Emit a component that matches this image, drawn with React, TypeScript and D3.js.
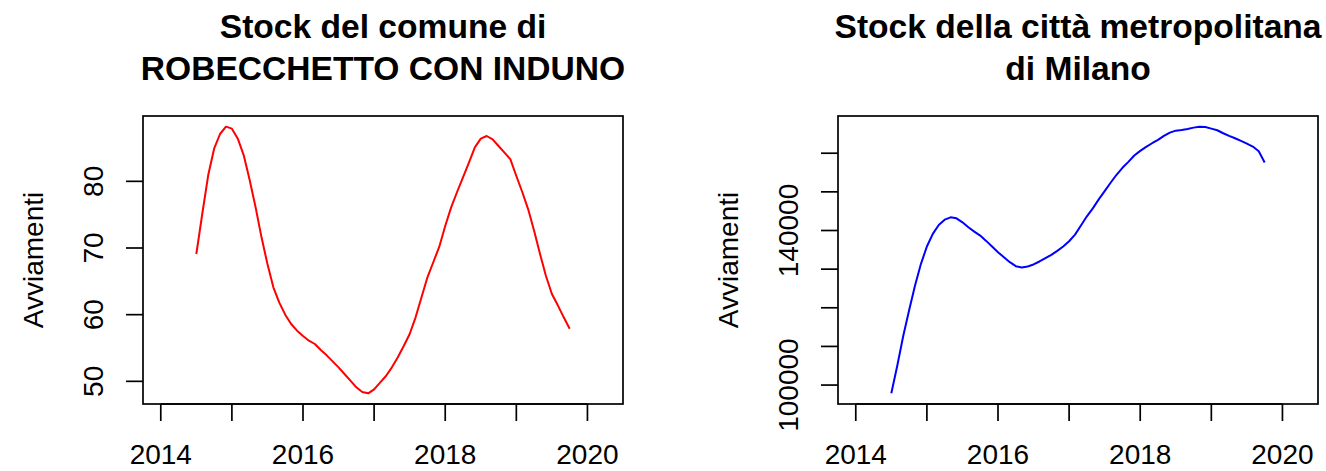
import { extent, line, scaleLinear } from "d3";

// monthly series, first point = July 2014
const startYear = 2014.5;

const robecchettoStock = [
  69.1, 75.1, 80.9, 84.9, 87.1, 88.2, 87.9, 86.4, 83.9, 80.2, 76.1, 71.6,
  67.6, 64.1, 61.8, 60.0, 58.6, 57.6, 56.8, 56.1, 55.6, 54.7, 53.9, 53.0,
  52.1, 51.1, 50.1, 49.1, 48.4, 48.2, 48.8, 49.8, 50.8, 52.1, 53.6, 55.3,
  57.1, 59.6, 62.6, 65.6, 67.9, 70.2, 73.3, 76.1, 78.4, 80.6, 82.8, 85.1,
  86.4, 86.8, 86.3, 85.3, 84.3, 83.3, 80.8, 78.4, 75.8, 72.6, 69.1, 65.8,
  63.1, 61.4, 59.6, 57.9,
];

const milanoStock = [
  97860, 104990, 112640, 119340, 125790, 131380, 135850, 139120, 141440, 142810, 143410, 143150,
  142120, 140830, 139720, 138690, 137310, 135850, 134380, 133090, 131800, 130770, 130430, 130690,
  131210, 131980, 132830, 133710, 134740, 135850, 137220, 138940, 141300, 143670, 145730, 148050,
  150200, 152350, 154420, 156220, 157770, 159400, 160610, 161640, 162580, 163440, 164480, 165330,
  165840, 166020, 166280, 166620, 166870, 166800, 166360, 165940, 165170, 164480, 163880, 163190,
  162490, 161720, 160530, 157590,
];

const xTicks = [2014, 2015, 2016, 2017, 2018, 2019, 2020];
const xLabels = [2014, 2016, 2018, 2020];
const xLimits = [2014, 2020.25];

const leftYTicks = [50, 60, 70, 80];
const leftYLabels = [50, 60, 70, 80];
const rightYTicks = [100000, 110000, 120000, 130000, 140000, 150000, 160000];
const rightYLabels = [100000, 140000];

const leftTitle = ["Stock del comune di", "ROBECCHETTO CON INDUNO"];
const rightTitle = ["Stock della città metropolitana", "di Milano"];
const yTitle = "Avviamenti";

const font = "'Liberation Sans', Arial, Helvetica, sans-serif";

// R style 4% range extension
function pad([a, b]: number[]) {
  const d = (b - a) * 0.04;
  return [a - d, b + d];
}

type PanelProps = {
  left: number;
  title: string[];
  values: number[];
  color: string;
  yTicks: number[];
  yLabels: number[];
};

function Panel({ left, title, values, color, yTicks, yLabels }: PanelProps) {
  const width = 480;
  const top = 116;
  const bottom = 404;
  const right = left + width;
  const cx = left + width / 2;

  const x = scaleLinear().domain(pad(xLimits)).range([left, right]);
  const y = scaleLinear()
    .domain(pad(extent(values) as number[]))
    .range([bottom, top]);

  const path = line<number>()
    .x((_, i) => x(startYear + i / 12))
    .y((v) => y(v))(values);

  return (
    <g fontFamily={font} fill="#000">
      {title.map((t, i) => (
        <text key={t} x={cx} y={38 + i * 42} textAnchor="middle" fontSize={33.6} fontWeight="bold">
          {t}
        </text>
      ))}

      <rect x={left} y={top} width={width} height={bottom - top} fill="none" stroke="#000" strokeWidth={1.7} />

      {path ? <path d={path} fill="none" stroke={color} strokeWidth={2} strokeLinejoin="round" /> : null}

      {xTicks.map((t) => (
        <line key={t} x1={x(t)} x2={x(t)} y1={bottom} y2={bottom + 17} stroke="#000" strokeWidth={1.7} />
      ))}
      <line x1={x(xTicks[0])} x2={x(xTicks[xTicks.length - 1])} y1={bottom} y2={bottom} stroke="#000" strokeWidth={1.7} />
      {xLabels.map((t) => (
        <text key={t} x={x(t)} y={464} textAnchor="middle" fontSize={28}>
          {t}
        </text>
      ))}

      {yTicks.map((t) => (
        <line key={t} x1={left - 17} x2={left} y1={y(t)} y2={y(t)} stroke="#000" strokeWidth={1.7} />
      ))}
      {yLabels.map((t) => (
        <text
          key={t}
          transform={`translate(${left - 40},${y(t)}) rotate(-90)`}
          textAnchor="middle"
          fontSize={28}
        >
          {t}
        </text>
      ))}

      <text
        transform={`translate(${left - 100},${(top + bottom) / 2}) rotate(-90)`}
        textAnchor="middle"
        fontSize={28}
      >
        {yTitle}
      </text>
    </g>
  );
}

export default function App() {
  return (
    <svg
      width={1326}
      height={471}
      viewBox="0 0 1326 471"
      style={{ position: "absolute", left: 0, top: 0, background: "#fff" }}
    >
      <rect width={1326} height={471} fill="#fff" />
      <Panel
        left={143}
        title={leftTitle}
        values={robecchettoStock}
        color="#ff0000"
        yTicks={leftYTicks}
        yLabels={leftYLabels}
      />
      <Panel
        left={838}
        title={rightTitle}
        values={milanoStock}
        color="#0000ff"
        yTicks={rightYTicks}
        yLabels={rightYLabels}
      />
    </svg>
  );
}
